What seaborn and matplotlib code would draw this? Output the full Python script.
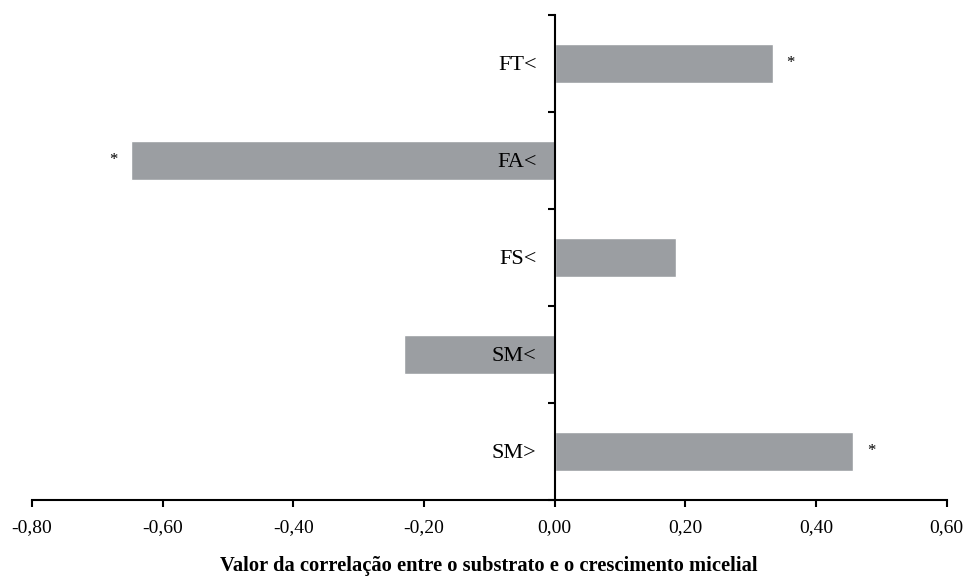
import numpy as np
import pandas as pd
import seaborn as sns
import matplotlib.pyplot as plt
from matplotlib.ticker import FixedLocator

# valores
categorias = ["FT<", "FA<", "FS<", "SM<", "SM>"]
correlacao = [0.334, -0.649, 0.185, -0.230, 0.457]
significativo = [True, True, False, False, True]
xticks = [-0.8, -0.6, -0.4, -0.2, 0.0, 0.2, 0.4, 0.6]

df = pd.DataFrame({"cat": categorias, "r": correlacao})

sns.set_style("white")
plt.rcParams["font.family"] = ["Liberation Serif", "DejaVu Serif"]
plt.rcParams["text.color"] = "black"

fig = plt.figure(figsize=(9.66, 5.76), dpi=100)
ax = fig.add_axes([0.033, 0.132, 0.947, 0.842])

sns.barplot(data=df, x="r", y="cat", orient="h", color="#9b9ea2",
            saturation=1, width=0.4, ax=ax)
ax.set_axisbelow(False)

ax.set_xlim(-0.8, 0.6)
ax.set_ylim(4.5, -0.5)

# eixo y passa pelo zero
ax.spines["left"].set_position(("data", 0))
ax.spines["right"].set_visible(False)
ax.spines["top"].set_visible(False)
for s in ["left", "bottom"]:
    ax.spines[s].set_linewidth(1.5)
    ax.spines[s].set_color("black")

ax.set_xticks(xticks)
ax.set_xticklabels([f"{v:.2f}".replace(".", ",") for v in xticks], fontsize=14)
ax.tick_params(axis="x", bottom=True, direction="out", length=5, width=1.5,
               pad=9, colors="black")

ax.yaxis.set_minor_locator(FixedLocator(np.arange(-0.5, 5, 1.0)))
ax.tick_params(axis="y", which="major", left=False, length=0, pad=13,
               labelsize=16, labelcolor="black")
ax.tick_params(axis="y", which="minor", left=True, direction="out", length=5,
               width=1.5, color="black")
ax.set_ylabel("")

ax.set_xlabel("Valor da correlação entre o substrato e o crescimento micelial",
              fontsize=14.8, fontweight="bold", labelpad=14, color="black")

# asteriscos de significancia
for i, (r, sig) in enumerate(zip(correlacao, significativo)):
    if sig:
        off = 0.027 if r > 0 else -0.027
        ax.text(r + off, i, "*", ha="center", va="center", fontsize=12,
                color="black")

fig.savefig("out.png", dpi=100)
